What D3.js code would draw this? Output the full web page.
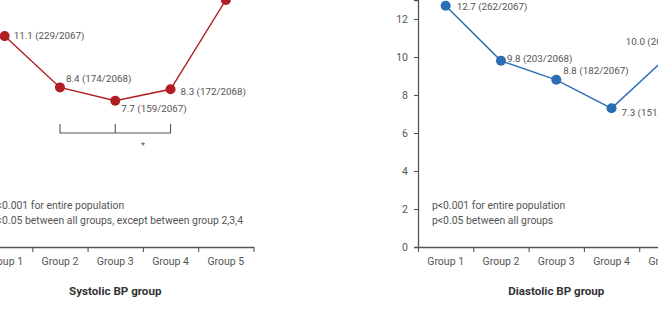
<!DOCTYPE html>
<html>
<head>
<meta charset="utf-8">
<script src="https://cdn.jsdelivr.net/npm/d3@7"></script>
<style>
  body { margin: 0; background: #fff; }
  svg text { font-family: Roboto, "Noto Sans", sans-serif; }
</style>
</head>
<body>
<div id="chart"></div>
<script>
const groups = ["Group 1", "Group 2", "Group 3", "Group 4", "Group 5"];
const systolicValues = [11.1, 8.4, 7.7, 8.3, 13.0];
const systolicCounts = ["229/2067", "174/2068", "159/2067", "172/2068", "269/2068"];
const diastolicValues = [12.7, 9.8, 8.8, 7.3, 10.0];
const diastolicCounts = ["262/2067", "203/2068", "182/2067", "151/2068", "207/2068"];
const yTicks = [0, 2, 4, 6, 8, 10, 12];
const systolicNotes = ["p<0.001 for entire population", "p<0.05 between all groups, except between group 2,3,4"];
const diastolicNotes = ["p<0.001 for entire population", "p<0.05 between all groups"];

const W = 658, H = 310;
const baseY = 247;      // y of the zero line
const plotW = 276.5;    // five groups
const gray = "#555";

const svg = d3.select("#chart").append("svg")
  .attr("width", W)
  .attr("height", H);

const y = d3.scaleLinear().domain([0, 13]).range([baseY, 0]);

function drawPanel(opts) {
  const g = svg.append("g").attr("transform", `translate(${opts.left},0)`);

  const x = d3.scaleBand().domain(groups).range([0, plotW]);
  const xEdge = d3.scaleLinear().domain([0, groups.length]).range([0, plotW]);

  // y axis
  const ya = g.append("g")
    .call(d3.axisLeft(y).tickValues(yTicks).tickSize(4).tickPadding(6));
  ya.select(".domain").attr("stroke", gray).attr("stroke-width", 1.3);
  ya.selectAll(".tick line").attr("stroke", gray).attr("stroke-width", 1.1);
  ya.selectAll("text").attr("fill", gray).style("font-size", "10.5px");

  // x axis: ticks on group edges
  const xa = g.append("g")
    .attr("transform", `translate(0,${baseY})`)
    .call(d3.axisBottom(xEdge).ticks(groups.length).tickSize(5).tickFormat("").tickSizeOuter(0));
  xa.select(".domain").attr("stroke", gray).attr("stroke-width", 1.3);
  xa.selectAll(".tick line").attr("stroke", gray).attr("stroke-width", 1.1);

  const xl = g.append("g")
    .attr("transform", `translate(0,${baseY})`)
    .call(d3.axisBottom(x).tickSize(0).tickPadding(11));
  xl.select(".domain").remove();
  xl.selectAll("text").attr("fill", gray).style("font-size", "10.5px");

  // axis title
  g.append("text")
    .attr("x", plotW / 2)
    .attr("y", 295)
    .attr("text-anchor", "middle")
    .attr("fill", "#333")
    .style("font-size", "11.6px")
    .style("font-weight", 700)
    .text(opts.title);

  // notes
  g.selectAll("text.note")
    .data(opts.notes)
    .enter()
    .append("text")
    .attr("class", "note")
    .attr("x", 14)
    .attr("y", (d, i) => 209 + i * 14.5)
    .attr("fill", gray)
    .style("font-size", "10.4px")
    .text(d => d);

  const pts = groups.map((grp, i) => ({ grp, v: opts.values[i], n: opts.counts[i], off: opts.offsets[i] }));

  // line
  g.append("path")
    .datum(pts)
    .attr("fill", "none")
    .attr("stroke", opts.color)
    .attr("stroke-width", 1.4)
    .attr("d", d3.line().x(d => x(d.grp) + x.bandwidth() / 2).y(d => y(d.v)));

  // points
  g.selectAll("circle")
    .data(pts)
    .enter()
    .append("circle")
    .attr("cx", d => x(d.grp) + x.bandwidth() / 2)
    .attr("cy", d => y(d.v))
    .attr("r", 5)
    .attr("fill", opts.color);

  // value labels
  g.selectAll("text.value")
    .data(pts)
    .enter()
    .append("text")
    .attr("class", "value")
    .attr("x", d => x(d.grp) + x.bandwidth() / 2 + d.off[0])
    .attr("y", d => y(d.v) + d.off[1])
    .attr("dy", "0.35em")
    .attr("fill", gray)
    .style("font-size", "9.8px")
    .text(d => d.v.toFixed(1) + " (" + d.n + ")");

  return { g, x };
}

// Systolic panel
const left = drawPanel({
  left: -23,
  values: systolicValues,
  counts: systolicCounts,
  color: "#b01e23",
  title: "Systolic BP group",
  notes: systolicNotes,
  offsets: [[9, -1], [6, -9], [6, 8], [10, 2], [8, -10]]
});

// bracket for group 2,3,4 (no significant difference)
const bx = d => left.x(d) + left.x.bandwidth() / 2;
left.g.append("path")
  .attr("fill", "none")
  .attr("stroke", gray)
  .attr("stroke-width", 1.1)
  .attr("d", `M${bx("Group 2")},124V133H${bx("Group 4")}V124M${bx("Group 3")},124V133`);
left.g.append("text")
  .attr("x", (bx("Group 3") + bx("Group 4")) / 2)
  .attr("y", 149)
  .attr("text-anchor", "middle")
  .attr("fill", gray)
  .style("font-size", "9px")
  .text("*");

// Diastolic panel
drawPanel({
  left: 418,
  values: diastolicValues,
  counts: diastolicCounts,
  color: "#2a6db5",
  title: "Diastolic BP group",
  notes: diastolicNotes,
  offsets: [[11, 1], [6, -2], [7, -9], [10, 4], [-41, -15]]
});
</script>
</body>
</html>
